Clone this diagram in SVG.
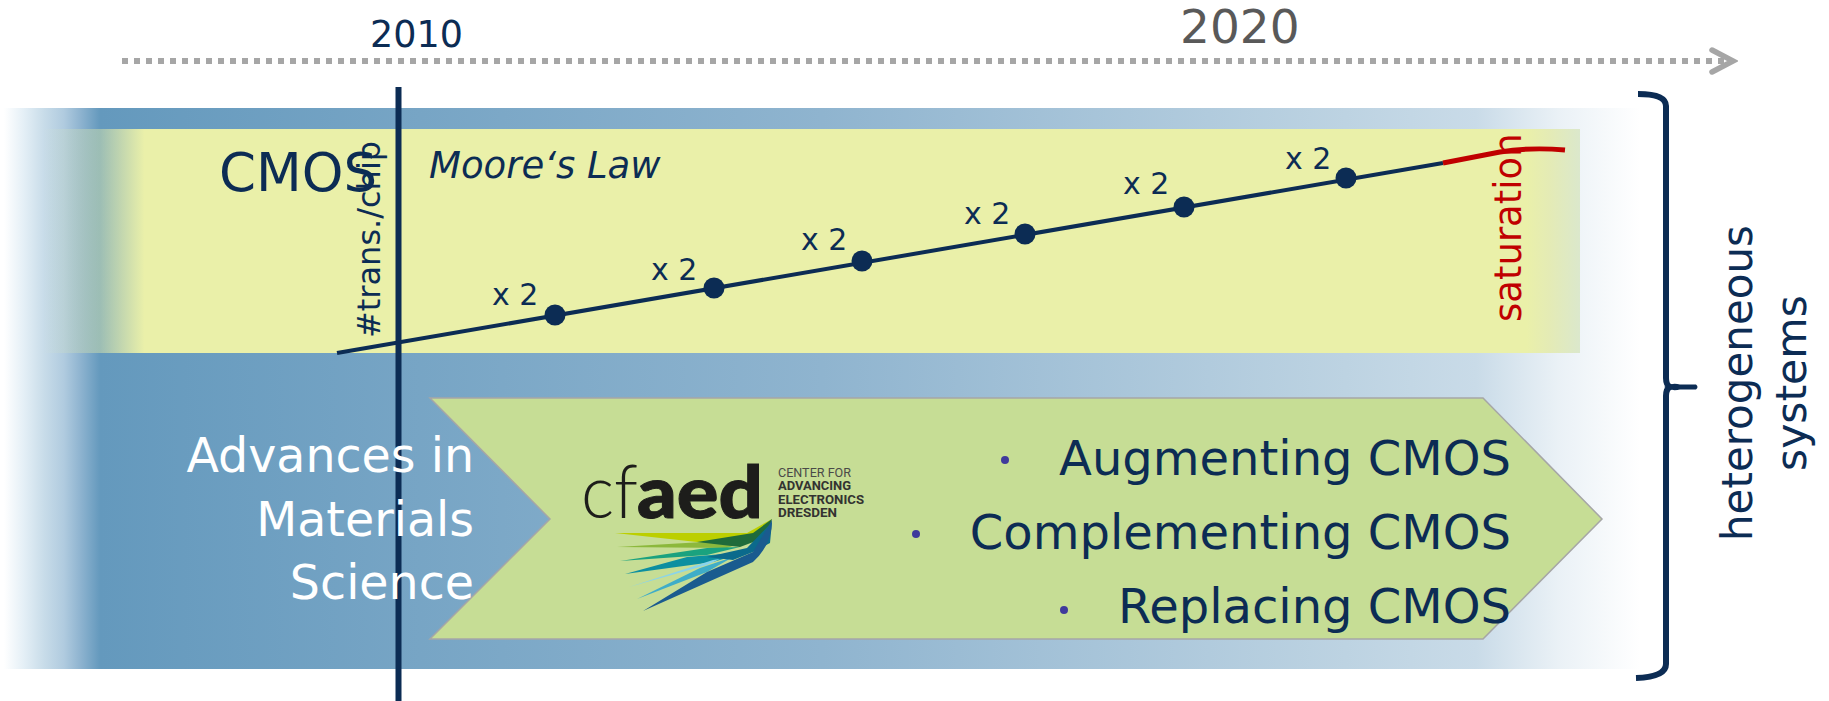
<svg xmlns="http://www.w3.org/2000/svg" width="1829" height="701" viewBox="0 0 1829 701">
<style>
text{font-family:"DejaVu Sans",Verdana,sans-serif;fill:#0c2c54}
.x2{font-size:30px}
.wh{fill:#fff;text-anchor:end;font-size:47.5px}
.li{text-anchor:end;font-size:48px}
.lg{font-family:Roboto,"Liberation Sans",sans-serif;font-size:13px;fill:#4a4a48}
.lgb{font-weight:700;fill:#333331}
</style>
<defs>
<linearGradient id="blue" x1="4" x2="1640" y1="0" y2="0" gradientUnits="userSpaceOnUse">
<stop offset="0" stop-color="#fff"/>
<stop offset="0.0122" stop-color="#e4eff6"/>
<stop offset="0.0244" stop-color="#c8dce9"/>
<stop offset="0.0367" stop-color="#b0cbdf"/>
<stop offset="0.0465" stop-color="#8fb4d0"/>
<stop offset="0.0587" stop-color="#6499bd"/>
<stop offset="0.5" stop-color="#8fb4cf"/>
<stop offset="0.82" stop-color="#bdd3e2"/>
<stop offset="0.9" stop-color="#c9dbe8"/>
<stop offset="0.95" stop-color="#eaf1f6"/>
<stop offset="1" stop-color="#fff"/>
</linearGradient>
<linearGradient id="yellow" x1="43" x2="1580" y1="0" y2="0" gradientUnits="userSpaceOnUse">
<stop offset="0" stop-color="#eaf0a9" stop-opacity="0"/>
<stop offset="0.037" stop-color="#eaf0a9" stop-opacity="0.42"/>
<stop offset="0.066" stop-color="#eaf0a9"/>
<stop offset="0.965" stop-color="#eaf0a9"/>
<stop offset="0.98" stop-color="#e4ebb5"/>
<stop offset="1" stop-color="#dbe8cc"/>
</linearGradient>
<marker id="ah" markerUnits="userSpaceOnUse" markerWidth="30" markerHeight="30" refX="25" refY="14" orient="auto">
<path d="M4 3L25 14L4 25" fill="none" stroke="#a6a6a6" stroke-width="5.5" stroke-linecap="round"/>
</marker>
</defs>
<g id="band-materials"><rect x="4" y="108" width="1636" height="561" fill="url(#blue)"/></g>
<g id="band-cmos"><rect x="43" y="129" width="1537" height="224" fill="url(#yellow)"/></g>
<g id="chevron"><path d="M430 398H1483L1602 519L1483 639H430L550 519Z" fill="#c6dd95" stroke="#a6a6a6" stroke-width="1.5"/></g>
<g id="connectors" fill="none">
<path d="M122 61H1733" stroke="#a6a6a6" stroke-width="6" stroke-dasharray="6 6" marker-end="url(#ah)"/>
<path d="M337 353L1443 163" stroke="#0c2c54" stroke-width="4"/>
<path d="M1443 163L1500 152Q1530 147 1565 150" stroke="#c00000" stroke-width="5"/>
<path d="M398.500 87V701" stroke="#0c2c54" stroke-width="6"/>
<path d="M1638 94Q1666 94 1666 106V378Q1666 385 1670 387Q1666 389 1666 396V664Q1666 677 1636 678" stroke="#0c2c54" stroke-width="6"/>
<path d="M1664 387Q1672 382 1680 384.500L1696 384.500Q1699 387 1696 389.500L1680 389.500Q1672 392 1664 387Z" fill="#0c2c54"/>
</g>
<g id="axis-labels">
<text x="370" y="47" style="font-size:36.500px">2010</text>
<text x="1180" y="43" style="font-size:47px;fill:#595959">2020</text>
</g>
<g id="cmos-labels">
<text x="219" y="191" style="font-size:53px">CMOS</text>
<text x="429" y="178" font-style="italic" style="font-size:37px">Moore‘s Law</text>
<text transform="translate(380 338) rotate(-90)" style="font-size:32px">#trans./chip</text>
<text transform="translate(1521 322) rotate(-90)" style="font-size:37px;fill:#c00000">saturation</text>
</g>
<g id="points" fill="#0c2c54">
<circle cx="555" cy="315" r="10.500"/><circle cx="714" cy="288" r="10.500"/><circle cx="862" cy="261" r="10.500"/><circle cx="1025" cy="234" r="10.500"/><circle cx="1184" cy="207" r="10.500"/><circle cx="1346" cy="178" r="10.500"/>
<text x="492" y="305" class="x2">x 2</text><text x="651" y="280" class="x2">x 2</text><text x="801" y="250" class="x2">x 2</text><text x="964" y="194" class="x2" transform="translate(0 30)">x 2</text><text x="1123" y="194" class="x2" transform="translate(0 0)">x 2</text><text x="1285" y="169" class="x2">x 2</text>
</g>
<g id="materials-label">
<text x="474" y="472" class="wh">Advances in</text>
<text x="474" y="536" class="wh">Materials</text>
<text x="474" y="599" class="wh">Science</text>
</g>
<g id="logo">
<text x="581" y="518" style="font-family:Lato,'Liberation Sans',sans-serif;font-weight:300;font-size:74px;fill:#1d1d1b" textLength="57" lengthAdjust="spacingAndGlyphs">cf</text>
<text x="637" y="518" style="font-family:Lato,'Liberation Sans',sans-serif;font-weight:900;font-size:72px;fill:#1d1d1b;stroke:#1d1d1b;stroke-width:1" textLength="126" lengthAdjust="spacingAndGlyphs">aed</text>
<text class="lg" x="778" y="477" textLength="73" lengthAdjust="spacingAndGlyphs">CENTER FOR</text>
<text class="lg lgb" x="778" y="490" textLength="73" lengthAdjust="spacingAndGlyphs">ADVANCING</text>
<text class="lg lgb" x="778" y="504" textLength="86" lengthAdjust="spacingAndGlyphs">ELECTRONICS</text>
<text class="lg lgb" x="778" y="517" textLength="59" lengthAdjust="spacingAndGlyphs">DRESDEN</text>
<path d="M615 533L747 533L772 519L753 540L697 542Z" fill="#bccf00"/>
<path d="M617 547L703 542L750 540L727 548Z" fill="#8cb83c"/>
<path d="M620 561L707 548L740 547L707 555Z" fill="#1aa27f"/>
<path d="M625 574L687 557L747 552L713 562Z" fill="#0d8fa0"/>
<path d="M629 587L713 560L720 559L707 565Z" fill="#8ad4ea"/>
<path d="M637 599L700 568L733 557L707 572Z" fill="#3fadc8"/>
<path d="M697 542L753 533L772 519L767 537L740 547Z" fill="#1f6b3a"/>
<path d="M707 557L747 548L772 522L770 543L753 552L733 560Z" fill="#0b6a8c"/>
<path d="M643 611L707 572L753 552L772 520Q772 545 753 562Z" fill="#1a5b8f"/>
</g>
<g id="items">
<text x="1511" y="475" class="li">Augmenting CMOS</text>
<text x="1511" y="549" class="li">Complementing CMOS</text>
<text x="1511" y="623" class="li">Replacing CMOS</text>
<circle cx="1005" cy="460" r="4" fill="#3f3a9c"/><circle cx="916" cy="534" r="4" fill="#3f3a9c"/><circle cx="1064" cy="610" r="4" fill="#3f3a9c"/>
</g>
<g id="hetero-label">
<text transform="translate(1752 541) rotate(-90)" style="font-size:42px">heterogeneous</text>
<text transform="translate(1806 471) rotate(-90)" style="font-size:42.500px">systems</text>
</g>
</svg>
